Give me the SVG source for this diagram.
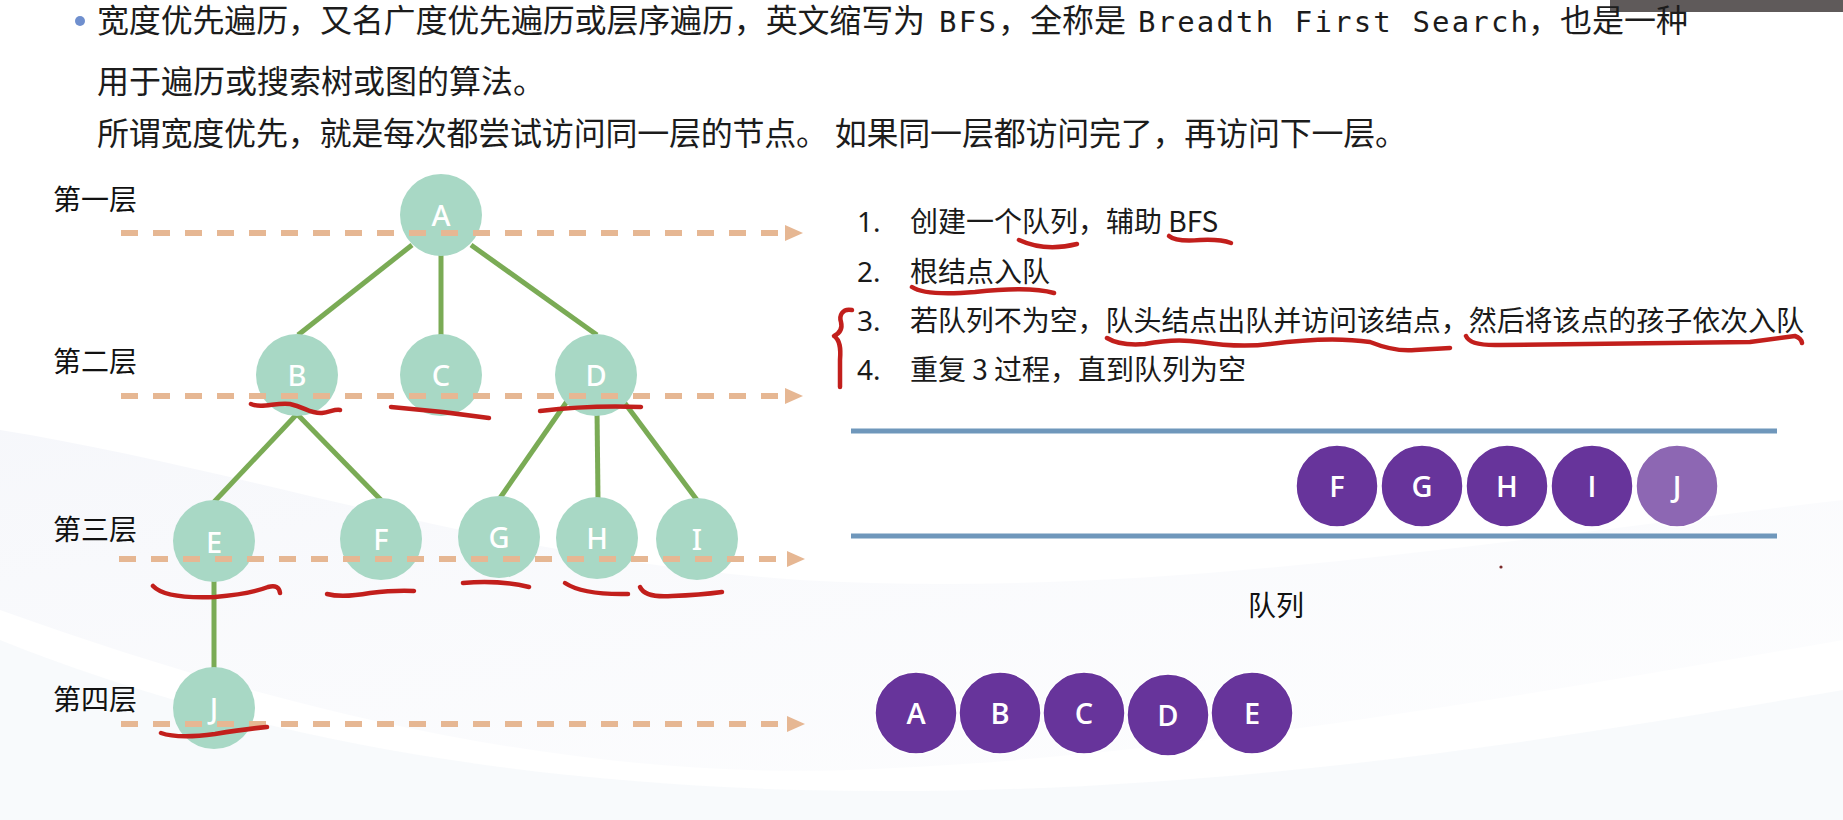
<svg xmlns="http://www.w3.org/2000/svg" width="1843" height="820" viewBox="0 0 1843 820">
<defs>
<style>
.hd{font-family:"Noto Sans CJK SC","Noto Sans",sans-serif;font-size:32px;fill:#1c1c1c}
.mono{font-family:"DejaVu Sans Mono","Liberation Mono",monospace;font-size:29px;fill:#1c1c1c}
.lbl{font-family:"Noto Sans CJK SC",sans-serif;font-size:28px;fill:#111}
.li{font-family:"Noto Sans CJK SC","Noto Sans",sans-serif;font-size:28px;fill:#1a1a1a}
.num{font-family:"Noto Sans","Open Sans",sans-serif;font-size:28px;fill:#1a1a1a}
.tn{fill:#a8d8c5}
.tl{font-family:"Noto Sans","Open Sans",sans-serif;font-size:29px;font-weight:500;fill:#ffffff;text-anchor:middle}
.qn{fill:#67349b;stroke:#ffffff;stroke-width:1.5}
.ql{font-family:"Open Sans","Noto Sans",sans-serif;font-size:29px;font-weight:600;fill:#ffffff;text-anchor:middle}
.edge{stroke:#7aab55;stroke-width:5;fill:none}
.dash{stroke:#e6b793;stroke-width:6;stroke-dasharray:17 15;fill:none}
.red{stroke:#c21f1c;stroke-width:4.5;fill:none;stroke-linecap:round;stroke-linejoin:round}
.tube{stroke:#6f97bb;stroke-width:5}
</style>
<marker id="ah" viewBox="0 0 18 16" refX="0" refY="8" markerWidth="18" markerHeight="16" markerUnits="userSpaceOnUse" orient="auto">
<path d="M0,0 L18,8 L0,16 Z" fill="#e6b793"/>
</marker>
<linearGradient id="bg1" x1="0" y1="0" x2="1" y2="1">
<stop offset="0" stop-color="#e9ecf5" stop-opacity="0.9"/>
<stop offset="1" stop-color="#f3f5fa" stop-opacity="0.4"/>
</linearGradient>
</defs>
<rect x="0" y="0" width="1843" height="820" fill="#ffffff"/>
<path d="M0,430 C250,470 500,560 800,580 C1150,600 1500,540 1843,500 L1843,640 C1500,700 1150,760 850,770 C550,780 250,700 0,610 Z" fill="url(#bg1)" opacity="0.45"/>
<path d="M0,640 C200,720 450,780 800,790 C1200,800 1550,740 1843,690 L1843,820 L0,820 Z" fill="#f4f6fa" opacity="0.6"/>
<rect x="1610" y="0" width="233" height="12" fill="#5f5a5a"/>

<g id="header">
<circle cx="80" cy="21" r="5" fill="#6f8fce"/>
<text class="hd" x="97" y="32" textLength="828" lengthAdjust="spacing">宽度优先遍历，又名广度优先遍历或层序遍历，英文缩写为</text>
<text class="mono" x="939" y="32" textLength="57" lengthAdjust="spacing">BFS</text>
<text class="hd" x="998" y="32">，全称是</text>
<text class="mono" x="1138" y="32" textLength="390" lengthAdjust="spacing">Breadth First Search</text>
<text class="hd" x="1528" y="32">，也是一种</text>
<text class="hd" x="97" y="93">用于遍历或搜索树或图的算法。</text>
<text class="hd" x="97" y="145" textLength="1310" lengthAdjust="spacing">所谓宽度优先，就是每次都尝试访问同一层的节点。 如果同一层都访问完了，再访问下一层。</text>
</g>

<g id="layer-labels">
<text class="lbl" x="53" y="210">第一层</text>
<text class="lbl" x="53" y="372">第二层</text>
<text class="lbl" x="53" y="540">第三层</text>
<text class="lbl" x="53" y="710">第四层</text>
</g>

<g id="connectors">
<line class="edge" x1="412" y1="245" x2="298" y2="335"/>
<line class="edge" x1="441" y1="250" x2="441" y2="336"/>
<line class="edge" x1="471" y1="245" x2="597" y2="335"/>
<line class="edge" x1="297" y1="414" x2="214" y2="502"/>
<line class="edge" x1="297" y1="414" x2="381" y2="500"/>
<line class="edge" x1="570" y1="397" x2="500" y2="498"/>
<line class="edge" x1="597" y1="410" x2="598" y2="499"/>
<line class="edge" x1="624" y1="402" x2="697" y2="500"/>
<line class="edge" x1="214" y1="578" x2="214" y2="669"/>
</g>

<g id="node-A"><circle class="tn" cx="441" cy="215" r="41"/><text class="tl" x="441" y="226">A</text></g>
<g id="node-B"><circle class="tn" cx="297" cy="375" r="41"/><text class="tl" x="297" y="386">B</text></g>
<g id="node-C"><circle class="tn" cx="441" cy="375" r="41"/><text class="tl" x="441" y="386">C</text></g>
<g id="node-D"><circle class="tn" cx="596" cy="375" r="41"/><text class="tl" x="596" y="386">D</text></g>
<g id="node-E"><circle class="tn" cx="214" cy="541" r="41"/><text class="tl" x="214" y="553">E</text></g>
<g id="node-F"><circle class="tn" cx="381" cy="539" r="41"/><text class="tl" x="381" y="550">F</text></g>
<g id="node-G"><circle class="tn" cx="499" cy="537" r="41"/><text class="tl" x="499" y="548">G</text></g>
<g id="node-H"><circle class="tn" cx="597" cy="538" r="41"/><text class="tl" x="597" y="549">H</text></g>
<g id="node-I"><circle class="tn" cx="697" cy="539" r="41"/><text class="tl" x="697" y="550">I</text></g>
<g id="node-J"><circle class="tn" cx="214" cy="708" r="41"/><text class="tl" x="214" y="719">J</text></g>

<g id="layer-arrows">
<line class="dash" x1="121" y1="233" x2="785" y2="233" marker-end="url(#ah)"/>
<line class="dash" x1="121" y1="396" x2="785" y2="396" marker-end="url(#ah)"/>
<line class="dash" x1="119" y1="559" x2="787" y2="559" marker-end="url(#ah)"/>
<line class="dash" x1="121" y1="724" x2="787" y2="724" marker-end="url(#ah)"/>
</g>

<g id="steps">
<text class="num" x="857" y="232">1.</text>
<text class="li" x="910" y="232">创建一个队列，辅助 BFS</text>
<text class="num" x="857" y="282">2.</text>
<text class="li" x="910" y="282">根结点入队</text>
<text class="num" x="857" y="331">3.</text>
<text class="li" x="910" y="331" textLength="894" lengthAdjust="spacing">若队列不为空，队头结点出队并访问该结点，然后将该点的孩子依次入队</text>
<text class="num" x="857" y="380">4.</text>
<text class="li" x="910" y="380">重复 3 过程，直到队列为空</text>
</g>

<g id="queue">
<line class="tube" x1="851" y1="431" x2="1777" y2="431"/>
<line class="tube" x1="851" y1="536" x2="1777" y2="536"/>
<g id="q-F"><circle class="qn" cx="1337" cy="486" r="41"/><text class="ql" x="1337" y="497">F</text></g>
<g id="q-G"><circle class="qn" cx="1422" cy="486" r="41"/><text class="ql" x="1422" y="497">G</text></g>
<g id="q-H"><circle class="qn" cx="1507" cy="486" r="41"/><text class="ql" x="1507" y="497">H</text></g>
<g id="q-I"><circle class="qn" cx="1592" cy="486" r="41"/><text class="ql" x="1592" y="497">I</text></g>
<g id="q-J"><circle class="qn" cx="1677" cy="486" r="41" style="fill:#8d67b3"/><text class="ql" x="1677" y="497">J</text></g>
<text class="lbl" x="1248" y="616">队列</text>
<circle cx="1501" cy="567" r="1.6" fill="#7a2a2a"/>
</g>

<g id="visited">
<g id="v-A"><circle class="qn" cx="916" cy="713" r="41"/><text class="ql" x="916" y="724">A</text></g>
<g id="v-B"><circle class="qn" cx="1000" cy="713" r="41"/><text class="ql" x="1000" y="724">B</text></g>
<g id="v-C"><circle class="qn" cx="1084" cy="713" r="41"/><text class="ql" x="1084" y="724">C</text></g>
<g id="v-D"><circle class="qn" cx="1168" cy="715" r="41"/><text class="ql" x="1168" y="726">D</text></g>
<g id="v-E"><circle class="qn" cx="1252" cy="713" r="41"/><text class="ql" x="1252" y="724">E</text></g>
</g>

<g id="annotations">
<path class="red" d="M251,404 C262,409 276,402 290,404 C305,407 310,414 322,413 C330,412 335,409 340,410"/>
<path class="red" d="M391,407 Q440,411 489,418"/>
<path class="red" d="M540,411 Q590,405 641,407"/>
<path class="red" d="M153,586 Q165,599 215,597 Q250,594 268,587 Q279,584 280,593"/>
<path class="red" d="M327,594 Q342,598 370,593 Q395,590 414,591"/>
<path class="red" d="M463,583 Q500,580 529,587"/>
<path class="red" d="M565,583 Q583,595 628,594"/>
<path class="red" d="M640,587 Q645,598 672,596 Q700,595 722,592"/>
<path class="red" d="M161,733 Q178,739 215,734 Q245,729 267,727"/>
<path class="red" d="M1019,240 Q1045,252 1077,244"/>
<path class="red" d="M1169,236 Q1176,242 1200,240 Q1220,239 1231,243"/>
<path class="red" d="M912,287 Q925,296 975,292 Q1030,286 1054,293"/>
<path class="red" d="M1107,338 Q1120,346 1145,344 Q1175,338 1200,342 Q1240,348 1270,344 Q1330,336 1370,342 Q1395,352 1415,350 L1450,348"/>
<path class="red" d="M1466,336 Q1470,346 1500,345 L1750,342 Q1780,338 1795,336 Q1801,338 1802,343"/>
<path class="red" d="M852,310 C842,308 839,316 841,322 C843,330 838,334 834,336 C840,340 841,348 840,360 L840,387"/>
</g>
</svg>
